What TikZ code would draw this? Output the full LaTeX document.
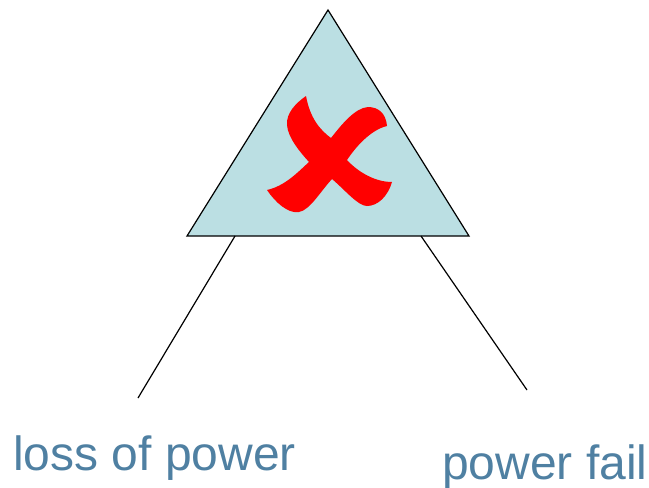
\documentclass[tikz,border=0pt]{standalone}
\usepackage{fontspec}
\setmainfont{Liberation Sans}
\definecolor{trifill}{HTML}{BBDFE3}
\definecolor{labelblue}{HTML}{4F80A2}
\definecolor{xred}{HTML}{FF0000}
\begin{document}
\begin{tikzpicture}[x=1pt,y=-1pt,
  edge/.style={draw=black,line width=1.2pt},
  lbl/.style={text=labelblue,font=\fontsize{48}{52}\selectfont,inner sep=0pt,anchor=base west}]
\useasboundingbox (0,0) rectangle (649,488);
% gate triangle
\coordinate (apex) at (328,10);
\coordinate (bl) at (187,236);
\coordinate (br) at (469,236);
\draw[edge,fill=trifill,line join=miter] (apex) -- (br) -- (bl) -- cycle;
% red cross
\fill[xred] (306,96) .. controls (296,103) and (286,113) .. (287,125)
  .. controls (288,138) and (300,152) .. (309,162)
  .. controls (298,172) and (285,186) .. (267,190)
  .. controls (275,202) and (288,214) .. (299,212)
  .. controls (310,210) and (320,192) .. (332,179)
  .. controls (345,190) and (358,206) .. (367,206)
  .. controls (378,206) and (388,196) .. (392,182)
  .. controls (375,182) and (358,172) .. (347,160)
  .. controls (355,148) and (370,130) .. (387,126)
  .. controls (386,113) and (378,107) .. (368,107)
  .. controls (355,108) and (342,124) .. (331,138)
  .. controls (320,130) and (310,118) .. (306,96) -- cycle;
% inputs
\coordinate (in1top) at (235,236);
\coordinate (in1bot) at (138,398);
\coordinate (in2top) at (421,236);
\coordinate (in2bot) at (527,390);
\draw[edge] (in1top) -- (in1bot);
\draw[edge] (in2top) -- (in2bot);
\node[lbl] (loss) at (13,470) {loss of power};
\node[lbl] (fail) at (442,479) {power fail};
\end{tikzpicture}
\end{document}
